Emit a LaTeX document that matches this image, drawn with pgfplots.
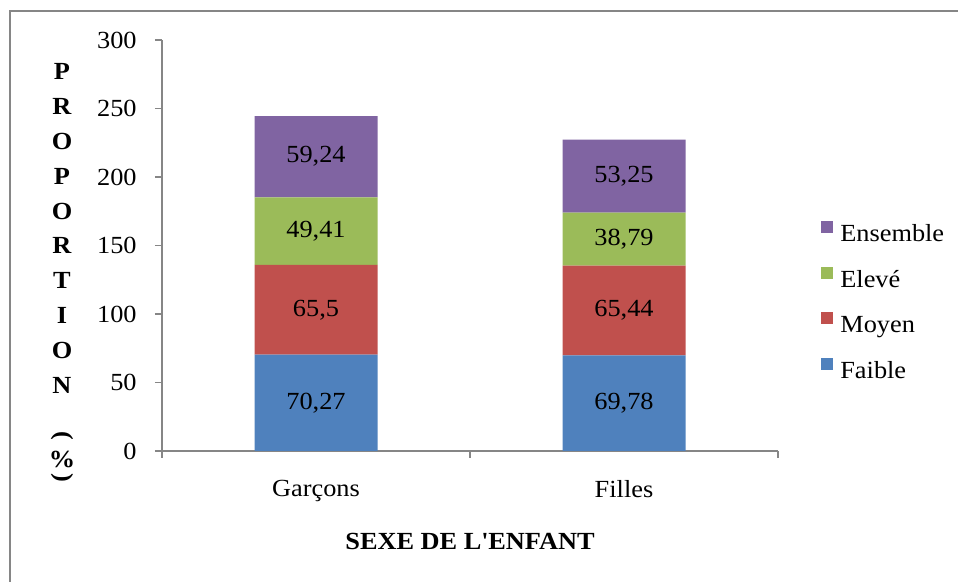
\documentclass[border=0pt]{standalone}
\usepackage{fontspec}
\setmainfont[FakeStretch=1.07]{Liberation Serif}
\usepackage{pgfplots}
\pgfplotsset{compat=1.18}
\usepackage{pgfplotstable}

\definecolor{cfaible}{HTML}{4F81BD}
\definecolor{cmoyen}{HTML}{C0504D}
\definecolor{celeve}{HTML}{9BBB59}
\definecolor{censemble}{HTML}{8064A2}
\definecolor{cline}{HTML}{868686}

% x: 0 = Garçons, 1 = Filles
\pgfplotstableread{
x y lab
0 70.27 70,27
1 69.78 69,78
}\faible
\pgfplotstableread{
x y lab
0 65.5 65,5
1 65.44 65,44
}\moyen
\pgfplotstableread{
x y lab
0 49.41 49,41
1 38.79 38,79
}\eleve
\pgfplotstableread{
x y lab
0 59.24 59,24
1 53.25 53,25
}\ensemble

\begin{document}
\fontsize{14}{17}\selectfont
\begin{tikzpicture}
% 1 px of the reference = 0.02cm
\path[use as bounding box] (0,0) rectangle (19.16cm,11.64cm);
\draw[cline, line width=0.04cm] (0.2cm,-1cm) -- (0.2cm,11.42cm) -- (20cm,11.42cm);

\begin{axis}[
    at={(3.24cm,2.62cm)}, anchor=south west,
    scale only axis, width=12.32cm, height=8.22cm,
    ybar stacked, bar width=2.46cm,
    xmin=-0.5, xmax=1.5, ymin=0, ymax=300,
    ytick={0,50,...,300},
    xtick={-0.5,0.5,1.5}, xticklabels={},
    extra x ticks={0,1}, extra x tick labels={Garçons,Filles},
    extra x tick style={major tick length=0pt},
    axis x line*=bottom, axis y line*=left,
    axis line style={cline, line width=0.8pt},
    tick style={cline, line width=0.8pt},
    tick align=outside, major tick length=0.14cm,
    /pgf/number format/assume math mode=true,
    yticklabel style={inner sep=0pt, anchor=east, xshift=-0.36cm},
    xticklabel style={inner sep=0pt, anchor=north, yshift=-0.58cm},
    legend style={draw=none, fill=none, at={(1,0.362)}, anchor=west,
        xshift=0.86cm, inner sep=0pt, row sep=0.408cm, column sep=0.14cm,
        nodes={inner sep=0pt, text height=0.35cm, text depth=0.1cm}},
    legend cell align=left,
    reverse legend,
    nodes near coords, point meta=explicit symbolic,
    nodes near coords style={anchor=center, text=black},
]
\addplot[fill=cfaible, draw=none,
    legend image code/.code={\fill[cfaible] (0cm,0.045cm) rectangle (0.24cm,0.285cm);}]
    table[x=x, y=y, meta=lab] {\faible};
\addplot[fill=cmoyen, draw=none,
    legend image code/.code={\fill[cmoyen] (0cm,0.045cm) rectangle (0.24cm,0.285cm);}]
    table[x=x, y=y, meta=lab] {\moyen};
\addplot[fill=celeve, draw=none,
    legend image code/.code={\fill[celeve] (0cm,0.045cm) rectangle (0.24cm,0.285cm);}]
    table[x=x, y=y, meta=lab] {\eleve};
\addplot[fill=censemble, draw=none,
    legend image code/.code={\fill[censemble] (0cm,0.045cm) rectangle (0.24cm,0.285cm);}]
    table[x=x, y=y, meta=lab] {\ensemble};
\legend{Faible,Moyen,Elevé,Ensemble}
\end{axis}

% vertical axis title, one letter per line
\foreach \l [count=\i from 0] in {P,R,O,P,O,R,T,I,O,N}
  \node[font=\bfseries] at (1.24cm, {(582-72-34.8*\i)*0.02cm}) {\l};
\node[font=\bfseries, rotate=-90] at (1.24cm, {(582-436)*0.02cm}) {(};
\node[font=\bfseries] at (1.24cm, {(582-460)*0.02cm}) {\%};
\node[font=\bfseries, rotate=-90] at (1.24cm, {(582-478)*0.02cm}) {)};

\node[font=\bfseries, anchor=base] at (9.4cm, 0.64cm) {SEXE DE L\textquotesingle ENFANT};
\end{tikzpicture}
\end{document}
